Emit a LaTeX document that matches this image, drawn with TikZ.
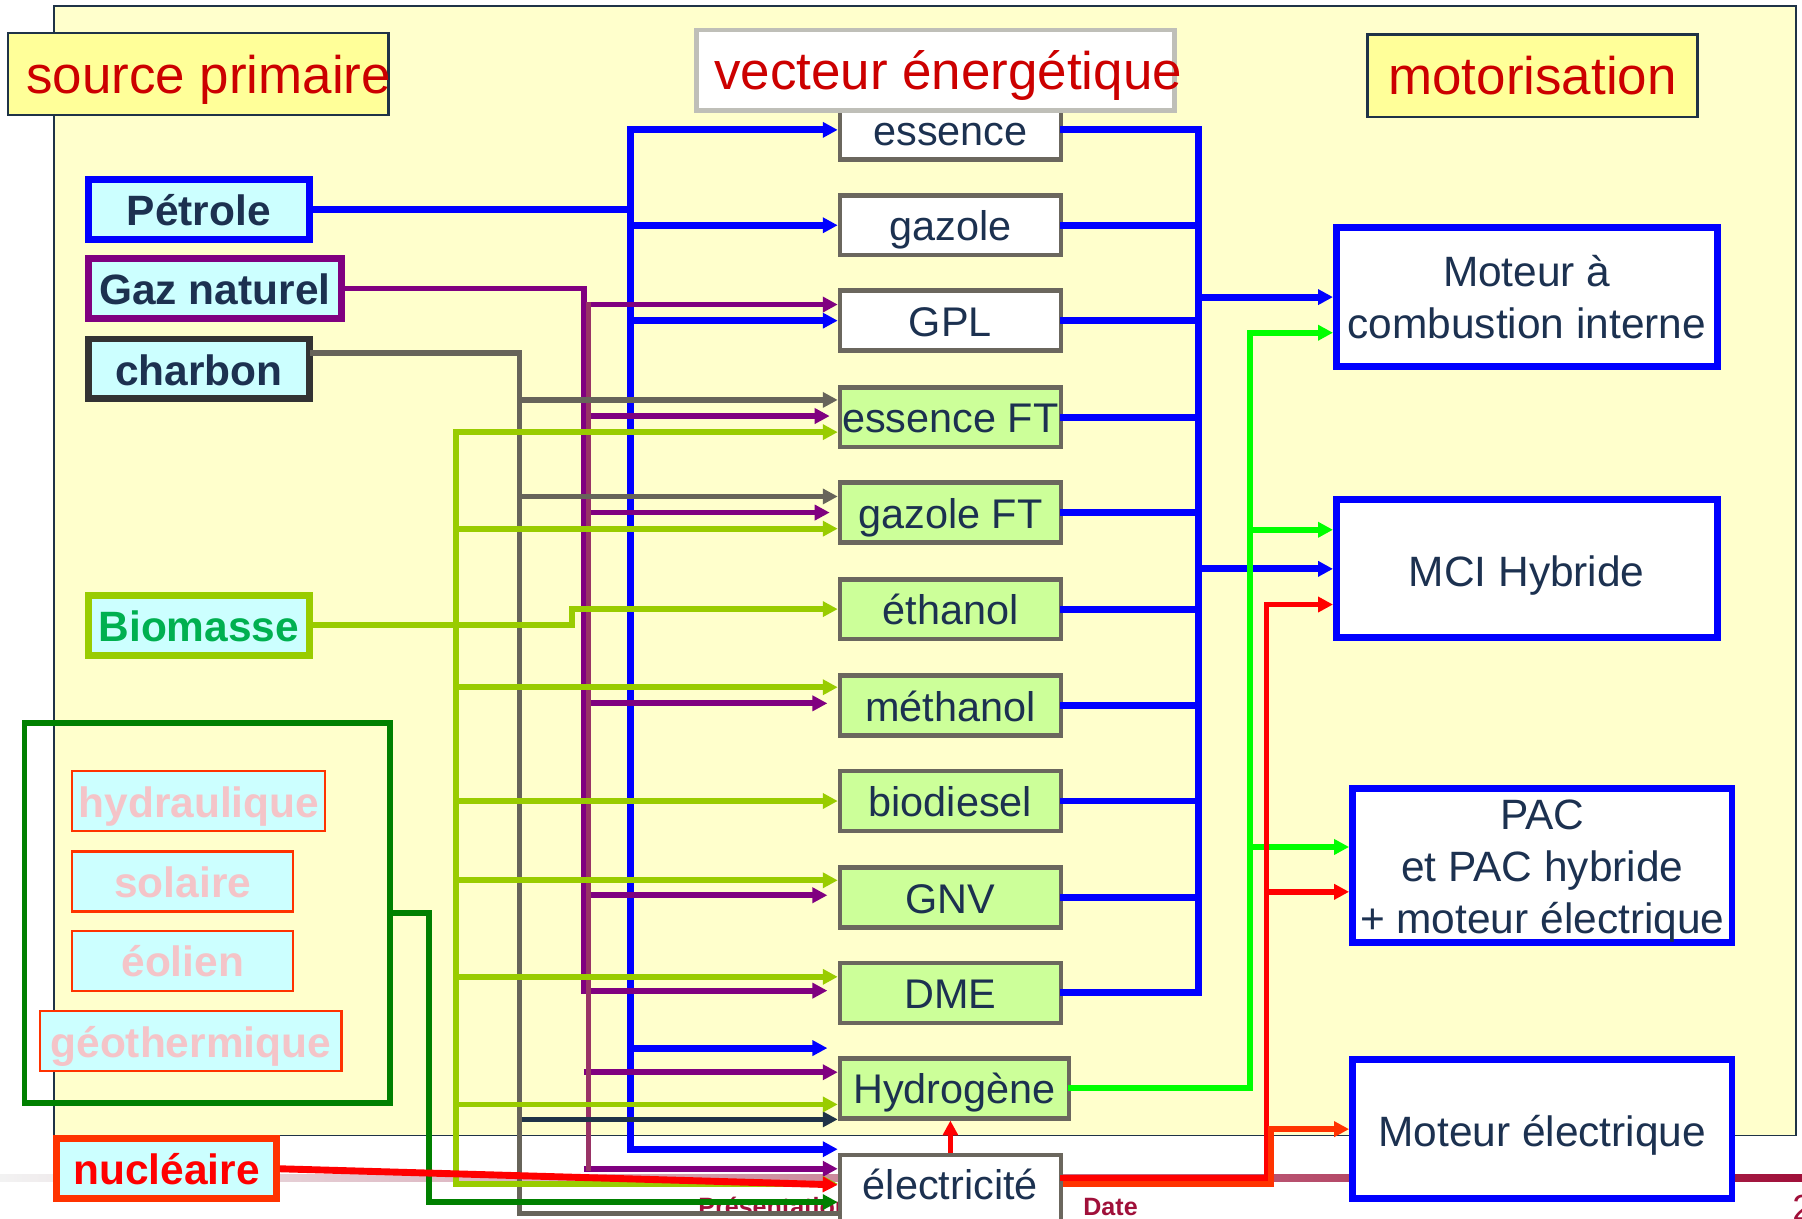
\documentclass[tikz,border=0pt]{standalone}
\usepackage{fontspec}
\setmainfont{Liberation Sans}
\usepackage{xcolor}
\usepackage{tikz}
\usetikzlibrary{arrows.meta,positioning,calc}
\definecolor{framefill}{HTML}{FFFFCC}
\definecolor{framedraw}{HTML}{1F3347}
\definecolor{txtnavy}{HTML}{1C3150}
\definecolor{srccyan}{HTML}{CCFFFF}
\definecolor{hdryellow}{HTML}{FFFF99}
\definecolor{hdrred}{HTML}{CC0000}
\definecolor{hdrgray}{HTML}{BFBFB8}
\definecolor{vecgreen}{HTML}{CCFF99}
\definecolor{vecgray}{HTML}{6B675E}
\definecolor{gnpurple}{HTML}{800080}
\definecolor{mauve}{HTML}{993366}
\definecolor{chgray}{HTML}{67645A}
\definecolor{chborder}{HTML}{333333}
\definecolor{biogreen}{HTML}{99CC00}
\definecolor{biotext}{HTML}{00B050}
\definecolor{rengreen}{HTML}{008000}
\definecolor{renred}{HTML}{FF3300}
\definecolor{renpink}{HTML}{F4C4C8}
\definecolor{h2green}{HTML}{00FF00}
\definecolor{elorange}{HTML}{FF3300}
\definecolor{footmaroon}{HTML}{A0103A}
\newcommand{\fsz}[2]{\fontsize{#1}{#2}\selectfont}

\begin{document}
\begin{tikzpicture}[
  x=0.01cm, y=-0.01cm,
  every node/.style={text=txtnavy, inner sep=0pt},
  srcbox/.style={draw, line width=0.06cm, fill=srccyan, minimum height=0.52cm, text height=0.28cm, text depth=0cm, font=\bfseries\fsz{10.5}{12}},
  renbox/.style={draw=renred, line width=0.02cm, fill=srccyan, minimum height=0.52cm, text height=0.28cm, text depth=0cm, text=renpink, font=\bfseries\fsz{10.5}{12}},
  grpbox/.style={draw=rengreen, line width=0.05cm, minimum width=3.18cm, minimum height=3.30cm},
  vecbox/.style={draw=vecgray, line width=0.04cm, fill=white, minimum width=1.92cm, minimum height=0.52cm, text height=0.27cm, text depth=0cm, font=\fsz{10.25}{12}},
  vecfuel/.style={vecbox, fill=vecgreen},
  motbox/.style={draw=blue, line width=0.06cm, fill=white, minimum width=3.31cm, align=center, font=\fsz{10.5}{12.8}},
  motone/.style={motbox, text height=0.30cm, text depth=0cm},
  hdrbox/.style={draw=framedraw, line width=0.02cm, fill=hdryellow, text=hdrred, minimum height=0.71cm, text height=0.36cm, text depth=0.03cm, font=\fsz{13.1}{15}},
  foot/.style={text=footmaroon, font=\bfseries\fsz{6.2}{7}, anchor=base west},
  ln/.style={line width=0.05cm, line cap=rect},
  arr/.style={line width=0.05cm, -{Triangle[length=0.13cm,width=0.13cm]}}
]
  % Frame and footer
  \fill[white] (0,0) rectangle (1568,1060);
  \useasboundingbox (0,0) rectangle (1568,1060);
  \draw[framedraw, line width=0.015cm, fill=framefill] (47,5) rectangle (1563,988);
  \shade[left color=gray!10, middle color=footmaroon!40, right color=footmaroon] (0,1022) rectangle (1568,1028);
  \node[foot] (pres) at (607,1058) {Présentation};
  \node[foot] (date) at (942,1058) {Date};
  \node[anchor=base west, text=footmaroon, font=\fsz{9}{10}] (pnum) at (1559,1062) {2};

  % Primary sources
  \node[srcbox, draw=blue, minimum width=1.92cm] (petrole) at (173,182) {Pétrole};
  \node[srcbox, draw=gnpurple, minimum width=2.20cm] (gaz) at (187,251) {Gaz naturel};
  \node[srcbox, draw=chborder, minimum width=1.92cm] (charbon) at (173,321) {charbon};
  \node[srcbox, draw=biogreen, text=biotext, minimum width=1.92cm] (biomasse) at (173,544) {Biomasse};
  \node[grpbox] (renouv) at (180.5,794.5) {};
  \node[renbox, minimum width=2.20cm] (hydrau) at (173,697) {hydraulique};
  \node[renbox, minimum width=1.92cm] (solaire) at (159,767) {solaire};
  \node[renbox, minimum width=1.92cm] (eolien) at (159,836) {éolien};
  \node[renbox, minimum width=2.62cm] (geoth) at (166,906) {géothermique};
  \node[srcbox, draw=renred, text=red, minimum width=1.91cm] (nucleaire) at (145,1017) {nucléaire};

  % Energy carriers
  \node[vecbox] (essence) at (827,113) {essence};
  \node[vecbox] (gazole) at (827,196) {gazole};
  \node[vecbox] (GPL) at (827,279) {GPL};
  \node[vecfuel] (essFT) at (827,363) {essence FT};
  \node[vecfuel] (gazFT) at (827,446) {gazole FT};
  \node[vecfuel] (ethanol) at (827,530) {éthanol};
  \node[vecfuel] (methanol) at (827,614) {méthanol};
  \node[vecfuel] (biodiesel) at (827,697) {biodiesel};
  \node[vecfuel] (GNV) at (827,781) {GNV};
  \node[vecfuel] (DME) at (827,864) {DME};
  \node[vecfuel, minimum width=1.99cm] (hydrogene) at (830.5,947) {Hydrogène};
  \node[vecbox, minimum height=0.60cm, text depth=0.09cm] (electricite) at (827,1035) {électricité};

  % Engines
  \node[motbox, minimum height=1.21cm] (mci) at (1328.5,258.5) {Moteur à\\combustion interne};
  \node[motone, minimum height=1.20cm] (hyb) at (1328.5,495) {MCI Hybride};
  \node[motbox, minimum width=3.30cm, minimum height=1.34cm] (pac) at (1342,753) {\rule{0pt}{0.36cm}PAC\\et PAC hybride\\+ moteur électrique};
  \node[motone, minimum width=3.30cm, minimum height=1.21cm] (melec) at (1342,982.5) {Moteur électrique};

  % Column headers
  \node[hdrbox, minimum width=3.31cm] (hsrc) at (172.5,64.5) {\hspace*{0.09cm}source primaire\hspace*{-0.09cm}};
  \node[hdrbox, draw=hdrgray, line width=0.04cm, fill=white, minimum width=4.16cm, minimum height=0.70cm] (hvec) at (814,61) {\hspace*{0.11cm}vecteur énergétique\hspace*{-0.11cm}};
  \node[hdrbox, minimum width=2.87cm, minimum height=0.72cm] (hmot) at (1333.5,66) {motorisation};

  % Trunk positions
  \coordinate (ptrunk) at (549,0);
  \coordinate (gtrunk) at (508,0);
  \coordinate (gtrunkb) at (512,0);
  \coordinate (ctrunk) at (452,0);
  \coordinate (bjog) at (498,0);
  \coordinate (btrunk) at (397,0);
  \coordinate (rtrunk) at (373,0);
  \coordinate (bus) at (1043,0);
  \coordinate (htrunk) at (1088,0);
  \coordinate (etrunk) at (1102,0);
  \coordinate (otrunk) at (1106,0);

  % Petrole
  \draw[ln, blue, line width=0.06cm] (petrole.east) -- (ptrunk |- petrole.east);
  \foreach \v/\dy/\dx in {essence/0/0, gazole/0/0, GPL/0/0, hydrogene/0.35/-0.09, electricite/0.35/0}{
    \coordinate (pb-\v) at ([xshift=\dx cm, yshift=\dy cm]\v.west);
    \draw[arr, blue, line width=0.06cm] (ptrunk |- pb-\v) -- (pb-\v);
  }
  \draw[ln, blue, line width=0.06cm] (ptrunk |- pb-essence) -- (ptrunk |- pb-electricite);

  % Gaz naturel
  \foreach \v/\dy/\dx in {GPL/0.14/0, essFT/0.01/-0.07, gazFT/0/-0.07, methanol/0.02/-0.09, GNV/0.02/-0.09, DME/0.02/-0.09, hydrogene/0.14/0, electricite/0.18/0}{
    \coordinate (gb-\v) at ([xshift=\dx cm, yshift=\dy cm]\v.west);
    \draw[arr, gnpurple] (gtrunk |- gb-\v) -- (gb-\v);
  }
  \draw[ln, gnpurple] (gaz.east) -| (gtrunk |- gb-DME);
  \draw[ln, mauve, line width=0.04cm] (gtrunkb |- gb-GPL) -- (gtrunkb |- gb-electricite);

  % Charbon
  \foreach \v/\dy in {essFT/0.15, gazFT/0.14}{
    \coordinate (cb-\v) at ([yshift=\dy cm]\v.west);
    \draw[arr, chgray] (ctrunk |- cb-\v) -- (cb-\v);
  }
  \coordinate (cb-h2) at ([yshift=-0.27cm]hydrogene.west);
  \draw[arr, framedraw] (ctrunk |- cb-h2) -- (cb-h2);
  \coordinate (cb-el) at ([yshift=-0.21cm]electricite.west);
  \draw[ln, chgray] ([yshift=0.14cm]charbon.east) -| (ctrunk |- cb-el) -- (cb-el);

  % Biomasse
  \draw[arr, biogreen] (biomasse.east) -| (bjog |- ethanol.west) -- (ethanol.west);
  \foreach \v/\dy in {essFT/-0.13, gazFT/-0.14, methanol/0.16, biodiesel/0, GNV/0.15, DME/0.14, hydrogene/-0.14, electricite/0.05}{
    \coordinate (bb-\v) at ([yshift=\dy cm]\v.west);
    \draw[arr, biogreen] (btrunk |- bb-\v) -- (bb-\v);
  }
  \draw[ln, biogreen] (btrunk |- bb-essFT) -- (btrunk |- bb-electricite);

  % Renewables and nuclear
  \coordinate (rb-el) at ([yshift=-0.11cm]electricite.west);
  \draw[arr, rengreen] (renouv.east) -| (rtrunk |- rb-el) -- (rb-el);
  \draw[arr, red, line width=0.06cm] (nucleaire.east) -- ([yshift=0.04cm]electricite.west);
  \draw[arr, red] (electricite.north) -- (electricite.north |- hydrogene.south);

  % Fuel bus to engines
  \foreach \v in {essence, gazole, GPL, essFT, gazFT, ethanol, methanol, biodiesel, GNV, DME}
    \draw[ln, blue, line width=0.06cm] (\v.east) -- (bus |- \v.east);
  \draw[ln, blue, line width=0.06cm] (bus |- essence.east) -- (bus |- DME.east);
  \draw[arr, blue, line width=0.06cm] (bus |- mci.west) -- (mci.west);
  \draw[arr, blue, line width=0.06cm] (bus |- hyb.west) -- (hyb.west);

  % Hydrogen to engines
  \coordinate (hb-mci) at ([yshift=-0.31cm]mci.west);
  \coordinate (hb-hyb) at ([yshift=0.34cm]hyb.west);
  \coordinate (hb-pac) at ([yshift=0.16cm]pac.west);
  \draw[ln, h2green] (hydrogene.east) -| (htrunk |- hb-mci);
  \foreach \m in {mci, hyb, pac}
    \draw[arr, h2green] (htrunk |- hb-\m) -- (hb-\m);

  % Electricity to engines
  \coordinate (eb-hyb) at ([yshift=-0.31cm]hyb.west);
  \coordinate (eb-pac) at ([yshift=-0.23cm]pac.west);
  \draw[ln, red] ([yshift=0.10cm]electricite.east) -| (etrunk |- eb-hyb);
  \foreach \m in {hyb, pac}
    \draw[arr, red] (etrunk |- eb-\m) -- (eb-\m);
  \draw[arr, elorange] ([yshift=0.05cm]electricite.east) -| (otrunk |- melec.west) -- (melec.west);
\end{tikzpicture}
\end{document}
